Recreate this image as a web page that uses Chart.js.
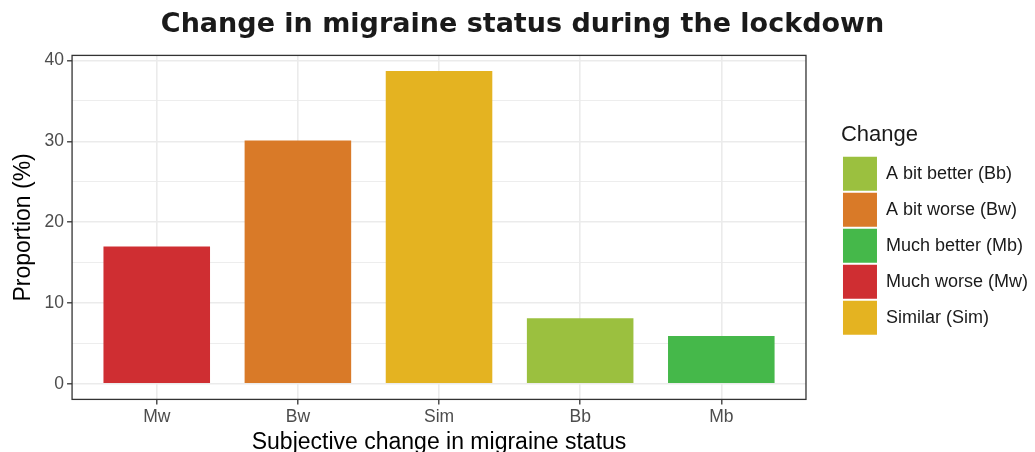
<!DOCTYPE html>
<html>
<head>
<meta charset="utf-8">
<script src="https://cdn.jsdelivr.net/npm/chart.js@4"></script>
<style>
  html, body { margin: 0; padding: 0; background: #ffffff; }
  #wrap { width: 1035px; height: 452px; }
</style>
</head>
<body>
<div id="wrap"><canvas id="chart" width="1035" height="452"></canvas></div>
<script>
// Bars in plotted order, with the values.
const categories = ["Mw", "Bw", "Sim", "Bb", "Mb"];
const proportions = [17.0, 30.1, 38.7, 8.1, 5.9];
const barColors = ["#CF2E32", "#D97A28", "#E4B321", "#9BC03F", "#45B84A"];

// Legend is alphabetical, like ggplot does it.
const legendNames = ["A bit better (Bb)", "A bit worse (Bw)", "Much better (Mb)", "Much worse (Mw)", "Similar (Sim)"];
const legendCodes = ["Bb", "Bw", "Mb", "Mw", "Sim"];

const yTicks = [0, 5, 10, 15, 20, 25, 30, 35, 40];
const xPositions = categories.map((_, index) => index + 1);

// gap between the panel and the legend keys
const LEGEND_GAP = 32;
const LEGEND_NUDGE = 3;

const panelBorder = {
  id: "panelBorder",
  afterDraw(chart) {
    const { ctx, chartArea } = chart;
    ctx.save();
    ctx.strokeStyle = "#333333";
    ctx.lineWidth = 1.3;
    ctx.strokeRect(chartArea.left, chartArea.top, chartArea.right - chartArea.left, chartArea.bottom - chartArea.top);
    ctx.restore();
  },
};

// widen the legend box but keep its keys at the right, leaving a gap like ggplot
const legendGap = {
  id: "legendGap",
  afterInit(chart) {
    const legend = chart.legend;
    if (!legend || legend._gapPatched) return;
    const fit = legend.fit.bind(legend);
    legend.fit = function () {
      fit();
      this.width += LEGEND_GAP;
    };
    legend._gapPatched = true;
  },
  afterLayout(chart) {
    if (chart.legend) {
      chart.legend.left += LEGEND_GAP + LEGEND_NUDGE;
    }
  },
};

new Chart(document.getElementById("chart"), {
  type: "bar",
  data: {
    datasets: [
      {
        data: xPositions.map((x, index) => ({ x, y: proportions[index] })),
        backgroundColor: barColors,
        borderWidth: 0,
        categoryPercentage: 1,
        barPercentage: 0.755,
      },
    ],
  },
  options: {
    responsive: false,
    animation: false,
    layout: { padding: { left: 10, right: 0, top: 0, bottom: -4 } },
    plugins: {
      title: {
        display: true,
        text: "Change in migraine status during the lockdown",
        color: "#1a1a1a",
        font: { family: "DejaVu Sans", size: 27, weight: "bold" },
        padding: { top: 9, bottom: 14 },
      },
      legend: {
        position: "right",
        title: {
          display: true,
          text: "Change",
          position: "start",
          color: "#1a1a1a",
          font: { family: "Liberation Sans", size: 22 },
          padding: { top: 5, bottom: 4 },
        },
        labels: {
          color: "#1a1a1a",
          font: { family: "Liberation Sans", size: 18 },
          boxWidth: 34,
          boxHeight: 34,
          padding: 2,
          generateLabels() {
            return legendNames.map((name, index) => ({
              text: name,
              fillStyle: barColors[categories.indexOf(legendCodes[index])],
              strokeStyle: "rgba(0,0,0,0)",
              lineWidth: 0,
              hidden: false,
              index,
            }));
          },
        },
        onClick() {},
      },
      tooltip: { enabled: false },
    },
    scales: {
      x: {
        type: "linear",
        min: 0.4,
        max: 5.6,
        offset: false,
        afterBuildTicks(scale) {
          scale.ticks = xPositions.map((value) => ({ value }));
        },
        border: { display: false },
        grid: {
          offset: false,
          color: "#EBEBEB",
          lineWidth: 1.6,
          tickLength: 5,
          tickColor: "#333333",
          tickWidth: 1.3,
        },
        ticks: {
          color: "#4D4D4D",
          font: { family: "Liberation Sans", size: 17.5 },
          padding: 2,
          maxRotation: 0,
          callback(value) {
            return categories[value - 1] || "";
          },
        },
        title: {
          display: true,
          text: "Subjective change in migraine status",
          color: "#000000",
          font: { family: "Liberation Sans", size: 23 },
          padding: { top: -1, bottom: 0 },
        },
      },
      y: {
        min: -1.94,
        max: 40.64,
        afterBuildTicks(scale) {
          scale.ticks = yTicks.map((value) => ({ value }));
        },
        border: { display: false },
        grid: {
          color: "#EBEBEB",
          lineWidth(context) {
            return context.tick && context.tick.value % 10 === 0 ? 1.6 : 0.9;
          },
          tickLength: 5,
          tickColor(context) {
            return context.tick && context.tick.value % 10 === 0 ? "#333333" : "rgba(0,0,0,0)";
          },
          tickWidth: 1.3,
        },
        ticks: {
          color: "#4D4D4D",
          font: { family: "Liberation Sans", size: 17.5 },
          padding: 3,
          callback(value) {
            return value % 10 === 0 ? String(value) : "";
          },
        },
        title: {
          display: true,
          text: "Proportion (%)",
          color: "#000000",
          font: { family: "Liberation Sans", size: 23 },
          padding: { top: 0, bottom: 4 },
        },
      },
    },
  },
  plugins: [panelBorder, legendGap],
});
</script>
</body>
</html>
